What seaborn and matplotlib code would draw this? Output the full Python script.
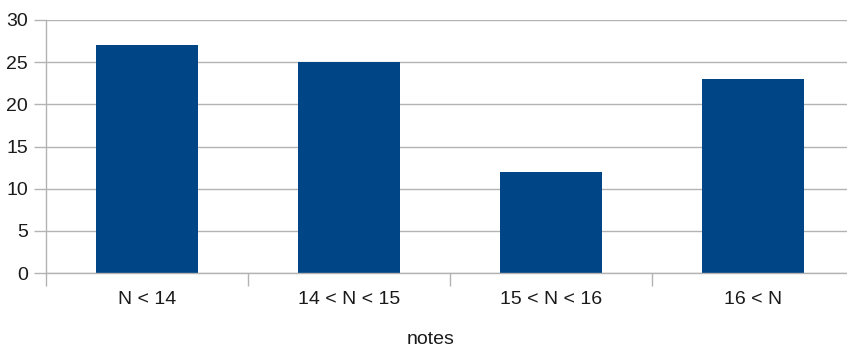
import numpy as np
import pandas as pd
import seaborn as sns
from matplotlib import pyplot as plt

categories = ['N < 14', '14 < N < 15', '15 < N < 16', '16 < N']
counts = [27, 25, 12, 23]
y_ticks = [0, 5, 10, 15, 20, 25, 30]

df = pd.DataFrame({'notes': categories, 'count': counts})

sns.set_style('white')
plt.rcParams['font.family'] = ['Liberation Sans', 'DejaVu Sans']

W, H = 847, 346
fig = plt.figure(figsize=(W / 100, H / 100), dpi=100)
# plot area runs past the right edge of the picture, like the original
ax = fig.add_axes([46 / W, (H - 273) / H, 808 / W, 253 / H])

sns.barplot(ax=ax, data=df, x='notes', y='count', color='#004586',
            width=0.505, saturation=1, linewidth=0)

ax.set_ylim(0, 30)
ax.set_xlim(-0.5, 3.5)
ax.set_yticks(y_ticks)
ax.yaxis.grid(True, color='#b3b3b3', linewidth=1)
ax.set_axisbelow(True)

for side in ['top', 'right']:
    ax.spines[side].set_visible(False)
for side in ['left', 'bottom']:
    ax.spines[side].set_color('#b3b3b3')
    ax.spines[side].set_linewidth(1)

# x ticks sit on category boundaries, labels at centers
ax.set_xticks(np.arange(-0.5, 4, 1))
ax.set_xticklabels([])
ax.set_xticks(np.arange(0, 4), minor=True)
ax.set_xticklabels(categories, minor=True, fontsize=14, color='#1a1a1a')
ax.tick_params(axis='x', which='major', length=9, width=1, color='#b3b3b3',
               direction='out', bottom=True)
ax.tick_params(axis='x', which='minor', length=0, pad=13)
ax.tick_params(axis='y', length=9, width=1, color='#b3b3b3', direction='out',
               left=True, labelsize=14, labelcolor='#1a1a1a', pad=4)

ax.set_xlabel('notes', fontsize=14, color='#1a1a1a')
ax.xaxis.set_label_coords((431 - 46) / 808, -(339 - 273) / 253)
ax.xaxis.label.set_va('center')
ax.set_ylabel('')

fig.savefig('out.png', dpi=100)
